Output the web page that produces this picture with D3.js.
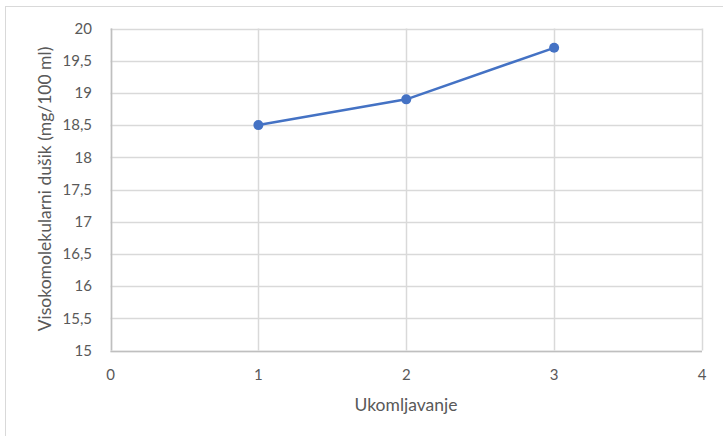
<!DOCTYPE html>
<html>
<head>
<meta charset="utf-8">
<script src="https://cdn.jsdelivr.net/npm/d3@7"></script>
<style>
  body { margin: 0; background: #fff; }
  text { font-family: Lato, "Open Sans", sans-serif; fill: #595959; }
</style>
</head>
<body>
<svg id="chart"></svg>
<script>
let width = 723,
    height = 436;

// data
let xValues = [1, 2, 3];
let yValues = [18.5, 18.9, 19.7];
let xTicks = [0, 1, 2, 3, 4];
let yTicks = [15, 15.5, 16, 16.5, 17, 17.5, 18, 18.5, 19, 19.5, 20];
let xTitle = "Ukomljavanje";
let yTitle = "Visokomolekularni dušik (mg/100 ml)";

let plot = { left: 110.5, right: 702, top: 28.5, bottom: 350.5 };

let svg = d3.select('#chart')
    .attr('width', width)
    .attr('height', height);

// chart frame (right and bottom are cut off in the picture)
svg.append('rect')
    .attr('x', 5.5)
    .attr('y', 6.5)
    .attr('width', 740)
    .attr('height', 460)
    .style('fill', '#fff')
    .style('stroke', '#d9d9d9');

let x = d3.scaleLinear().domain([0, 4]).range([plot.left, plot.right]);
let y = d3.scaleLinear().domain([15, 20]).range([plot.bottom, plot.top]);

let fmt = function(d) { return String(d).replace('.', ','); };

// gridlines
svg.append('g')
    .selectAll('line')
    .data(yTicks)
    .enter().append('line')
    .attr('x1', plot.left)
    .attr('x2', plot.right)
    .attr('y1', function(d) { return Math.round(y(d)) + 0.5; })
    .attr('y2', function(d) { return Math.round(y(d)) + 0.5; })
    .style('stroke', '#d9d9d9')
    .style('stroke-width', 1.5);

svg.append('g')
    .selectAll('line')
    .data(xTicks)
    .enter().append('line')
    .attr('x1', function(d) { return Math.round(x(d)) + 0.5; })
    .attr('x2', function(d) { return Math.round(x(d)) + 0.5; })
    .attr('y1', plot.top)
    .attr('y2', plot.bottom)
    .style('stroke', '#d9d9d9')
    .style('stroke-width', 1.5);

// axes lines slightly darker
svg.append('line')
    .attr('x1', plot.left).attr('x2', plot.right)
    .attr('y1', Math.round(y(15)) + 0.5).attr('y2', Math.round(y(15)) + 0.5)
    .style('stroke', '#bfbfbf').style('stroke-width', 1.5);
svg.append('line')
    .attr('x1', Math.round(x(0)) + 0.5).attr('x2', Math.round(x(0)) + 0.5)
    .attr('y1', plot.top).attr('y2', plot.bottom)
    .style('stroke', '#bfbfbf').style('stroke-width', 1.5);

// tick labels
svg.append('g')
    .selectAll('text')
    .data(yTicks)
    .enter().append('text')
    .attr('x', 92)
    .attr('y', function(d) { return y(d); })
    .attr('dy', '0.35em')
    .attr('text-anchor', 'end')
    .style('font-size', '15px')
    .text(fmt);

svg.append('g')
    .selectAll('text')
    .data(xTicks)
    .enter().append('text')
    .attr('x', function(d) { return x(d); })
    .attr('y', 375)
    .attr('dy', '0.35em')
    .attr('text-anchor', 'middle')
    .style('font-size', '15px')
    .text(fmt);

// axis titles
svg.append('text')
    .attr('x', 406)
    .attr('y', 405)
    .attr('dy', '0.35em')
    .attr('text-anchor', 'middle')
    .style('font-size', '17.5px')
    .text(xTitle);

svg.append('text')
    .attr('transform', 'translate(45,' + 189 + ') rotate(-90)')
    .attr('dy', '0.35em')
    .attr('text-anchor', 'middle')
    .style('font-size', '17.5px')
    .text(yTitle);

// series
let pts = xValues.map(function(v, i) { return [v, yValues[i]]; });

let line = d3.line()
    .x(function(d) { return x(d[0]); })
    .y(function(d) { return y(d[1]); });

svg.append('path')
    .datum(pts)
    .attr('d', line)
    .style('fill', 'none')
    .style('stroke', '#4472c4')
    .style('stroke-width', 2.5)
    .style('stroke-linejoin', 'round');

svg.append('g')
    .selectAll('circle')
    .data(pts)
    .enter().append('circle')
    .attr('cx', function(d) { return x(d[0]); })
    .attr('cy', function(d) { return y(d[1]); })
    .attr('r', 5)
    .style('fill', '#4472c4');
</script>
</body>
</html>
